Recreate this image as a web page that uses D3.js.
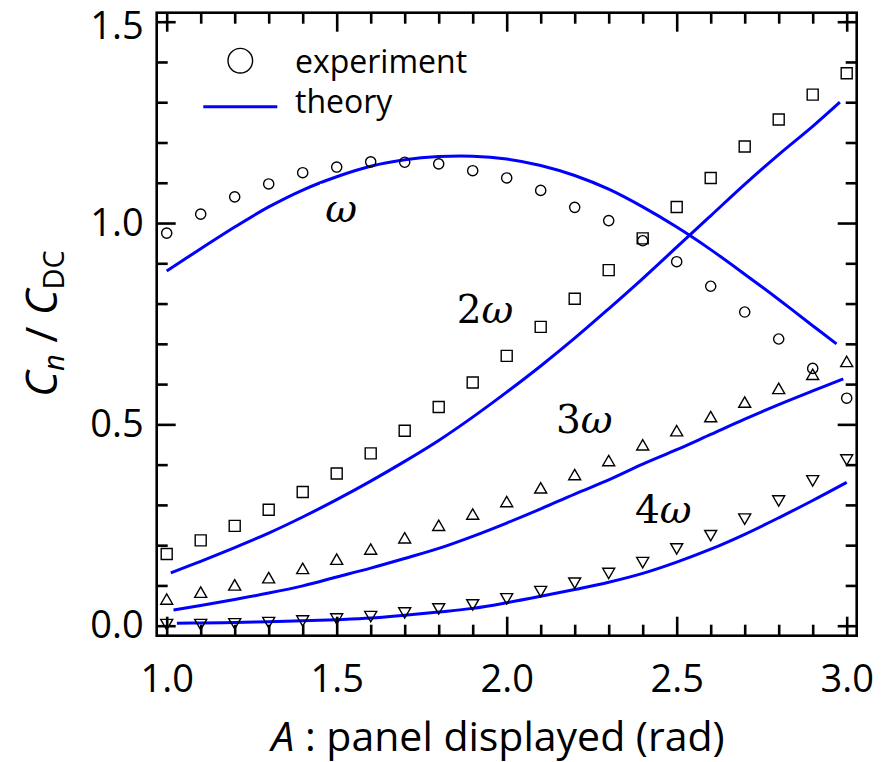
<!DOCTYPE html>
<html>
<head>
<meta charset="utf-8">
<script src="https://cdn.jsdelivr.net/npm/d3@7"></script>
<style>
  html, body { margin: 0; padding: 0; background: #fff; }
  svg { display: block; }
</style>
</head>
<body>
<svg id="chart" width="894" height="762"></svg>
<script>
// ---------- data ----------
const xExp = [1.0,1.1,1.2,1.3,1.4,1.5,1.6,1.7,1.8,1.9,2.0,2.1,2.2,2.3,2.4,2.5,2.6,2.7,2.8,2.9,3.0];
const exp1w = [0.975,1.022,1.065,1.097,1.125,1.139,1.152,1.151,1.147,1.130,1.112,1.081,1.039,1.006,0.956,0.904,0.843,0.779,0.712,0.639,0.565];
const exp2w = [0.178,0.212,0.248,0.288,0.332,0.378,0.428,0.484,0.543,0.604,0.670,0.742,0.812,0.883,0.962,1.040,1.112,1.190,1.257,1.319,1.372];
const exp3w = [0.062,0.079,0.097,0.115,0.138,0.161,0.186,0.214,0.245,0.273,0.304,0.338,0.371,0.406,0.445,0.480,0.515,0.551,0.585,0.620,0.652];
const exp4w = [0.007,0.007,0.009,0.012,0.016,0.021,0.027,0.036,0.046,0.056,0.071,0.089,0.110,0.134,0.161,0.195,0.228,0.269,0.314,0.364,0.416];

const xTh1 = [1.0,1.1,1.2,1.3,1.4,1.5,1.6,1.7,1.8,1.9,2.0,2.1,2.2,2.3,2.4,2.5,2.6,2.7,2.8,2.9,2.97];
const th1w = [0.881,0.936,0.990,1.040,1.082,1.115,1.141,1.157,1.165,1.166,1.159,1.143,1.118,1.084,1.040,0.990,0.934,0.873,0.810,0.745,0.700];
const xTh2 = [1.012,1.1,1.2,1.3,1.4,1.5,1.6,1.7,1.8,1.9,2.0,2.1,2.2,2.3,2.4,2.5,2.6,2.7,2.8,2.9,2.98];
const th2w = [0.131,0.160,0.194,0.230,0.270,0.313,0.359,0.408,0.460,0.518,0.580,0.645,0.714,0.787,0.862,0.940,1.018,1.096,1.170,1.240,1.300];
const xTh3 = [1.02,1.1,1.2,1.3,1.4,1.5,1.6,1.7,1.8,1.9,2.0,2.1,2.2,2.3,2.4,2.5,2.6,2.7,2.8,2.9,2.99];
const th3w = [0.039,0.050,0.065,0.081,0.099,0.121,0.143,0.167,0.192,0.222,0.255,0.290,0.327,0.362,0.401,0.437,0.475,0.513,0.549,0.583,0.613];
const xTh4 = [1.03,1.1,1.2,1.3,1.4,1.5,1.6,1.7,1.8,1.9,2.0,2.1,2.2,2.3,2.4,2.5,2.6,2.7,2.8,2.9,3.0];
const th4w = [0.006,0.007,0.008,0.010,0.012,0.015,0.019,0.026,0.034,0.043,0.057,0.073,0.090,0.108,0.130,0.158,0.190,0.227,0.268,0.311,0.356];

const xMajor = [1.0,1.5,2.0,2.5,3.0];
const xMinor = [1.1,1.2,1.3,1.4,1.6,1.7,1.8,1.9,2.1,2.2,2.3,2.4,2.6,2.7,2.8,2.9];
const yMajor = [0.0,0.5,1.0,1.5];
const yMinor = [0.1,0.2,0.3,0.4,0.6,0.7,0.8,0.9,1.1,1.2,1.3,1.4];

const seriesLabels = [
  {num: "",  x: 1.466, y: 1.003},
  {num: "2", x: 1.853, y: 0.752},
  {num: "3", x: 2.145, y: 0.479},
  {num: "4", x: 2.377, y: 0.254}
];
const legendItems = ["experiment", "theory"];

// ---------- layout ----------
const SANS = "'Open Sans', 'Noto Sans', sans-serif";
const SERIF = "'DejaVu Serif', serif";
const svg = d3.select("#chart");
const frame = {left: 156.7, right: 856.7, top: 12.7, bottom: 635.7};
const x = d3.scaleLinear().domain([1, 3]).range([166.7, 846.7]);
const y = d3.scaleLinear().domain([0, 1.5]).range([625.7, 21.7]);
const BLUE = "#0000ff";
const AXW = 2.6;

// ---------- theory lines ----------
const line = d3.line().x(d => x(d[0])).y(d => y(d[1])).curve(d3.curveCatmullRom.alpha(0.5));
const theory = [[xTh1, th1w], [xTh2, th2w], [xTh3, th3w], [xTh4, th4w]];
const gLines = svg.append("g");
theory.forEach(([xs, ys]) => {
  gLines.append("path")
    .datum(xs.map((v, i) => [v, ys[i]]))
    .attr("d", line)
    .attr("fill", "none")
    .attr("stroke", BLUE)
    .attr("stroke-width", 3);
});

// ---------- series labels (white box behind the first, as in the original) ----------
const gLab = svg.append("g");
seriesLabels.forEach((l, i) => {
  const t = gLab.append("text")
    .style("font-family", SERIF)
    .attr("x", x(l.x)).attr("y", y(l.y))
    .attr("font-size", 39).attr("fill", "#000");
  if (l.num) t.append("tspan").text(l.num);
  t.append("tspan").style("font-style", "italic").text("ω");
  if (i === 0) {
    const bb = t.node().getBBox();
    gLab.insert("rect", "text")
      .attr("x", bb.x - 5).attr("y", bb.y - 2)
      .attr("width", bb.width + 10).attr("height", bb.height + 2)
      .attr("fill", "#fff");
  }
});

// ---------- markers ----------
const gM = svg.append("g").attr("fill", "none").attr("stroke", "#000").attr("stroke-width", 1.4);
const sq = d3.symbol().type(d3.symbolSquare).size(11 * 11);
const tri = d3.symbol().type(d3.symbolTriangle).size(12 * 12 * Math.sqrt(3) / 4);
const circ = d3.symbol().type(d3.symbolCircle).size(Math.PI * 5.1 * 5.1);

function drawMarkers(vals, gen, rot) {
  gM.append("g").selectAll("path")
    .data(vals.map((v, i) => [xExp[i], v]))
    .join("path")
    .attr("d", gen)
    .attr("transform", d => `translate(${x(d[0])},${y(d[1])})` + (rot ? ` rotate(${rot})` : ""));
}
drawMarkers(exp1w, circ, 0);
drawMarkers(exp2w, sq, 0);
drawMarkers(exp3w, tri, 0);
drawMarkers(exp4w, tri, 180);

// ---------- axes (inward ticks on all sides) ----------
const fmt = d3.format(".1f");
function addAxis(axisFn, scale, pos, major, minor, labels, pad) {
  const gMaj = svg.append("g").attr("transform", pos)
    .call(axisFn(scale).tickValues(major).tickSize(-19).tickSizeOuter(0)
      .tickPadding(pad).tickFormat(labels ? fmt : () => ""));
  const gMin = svg.append("g").attr("transform", pos)
    .call(axisFn(scale).tickValues(minor).tickSize(-11).tickSizeOuter(0).tickFormat(() => ""));
  [gMaj, gMin].forEach(g => {
    g.select(".domain").remove();
    g.selectAll(".tick line").attr("stroke", "#000").attr("stroke-width", AXW);
    g.selectAll("text").style("font-family", SANS).attr("font-size", 38).attr("fill", "#000");
  });
  return gMaj;
}
addAxis(d3.axisBottom, x, `translate(0,${frame.bottom})`, xMajor, xMinor, true, 29);
addAxis(d3.axisTop, x, `translate(0,${frame.top})`, xMajor, xMinor, false, 0);
const gLeft = addAxis(d3.axisLeft, y, `translate(${frame.left},0)`, yMajor, yMinor, true, 13);
// top label sits slightly lower, as in the original
gLeft.selectAll(".tick text").filter(d => d === 1.5).attr("dy", "0.44em");
addAxis(d3.axisRight, y, `translate(${frame.right},0)`, yMajor, yMinor, false, 0);

svg.append("rect")
  .attr("x", frame.left).attr("y", frame.top)
  .attr("width", frame.right - frame.left).attr("height", frame.bottom - frame.top)
  .attr("fill", "none").attr("stroke", "#000").attr("stroke-width", AXW);

// ---------- axis titles ----------
const xt = svg.append("text").style("font-family", SANS)
  .attr("x", 498).attr("y", 751).attr("text-anchor", "middle").attr("font-size", 41).attr("fill", "#000");
xt.append("tspan").style("font-style", "italic").text("A");
xt.append("tspan").text(" : panel displayed (rad)");

const yt = svg.append("text").style("font-family", SANS)
  .attr("transform", "translate(57,323.5) rotate(-90)")
  .attr("text-anchor", "middle").attr("font-size", 44).attr("fill", "#000");
yt.append("tspan").style("font-style", "italic").text("C");
yt.append("tspan").style("font-style", "italic").attr("font-size", 29).attr("dy", 7).text("n");
yt.append("tspan").attr("dy", -7).text(" / ");
yt.append("tspan").style("font-style", "italic").text("C");
yt.append("tspan").attr("font-size", 29).attr("dy", 7).text("DC");

// ---------- legend ----------
const lg = svg.append("g");
lg.append("circle").attr("cx", 240.3).attr("cy", 60.7).attr("r", 12.3)
  .attr("fill", "none").attr("stroke", "#000").attr("stroke-width", 1.4);
lg.append("line").attr("x1", 203.3).attr("x2", 277.3).attr("y1", 106.7).attr("y2", 106.7)
  .attr("stroke", BLUE).attr("stroke-width", 3);
lg.selectAll("text.leg").data(legendItems).join("text")
  .attr("class", "leg")
  .style("font-family", SANS)
  .attr("x", 295).attr("y", (d, i) => 73 + i * 40)
  .attr("font-size", 32).attr("fill", "#000")
  .text(d => d);
</script>
</body>
</html>
